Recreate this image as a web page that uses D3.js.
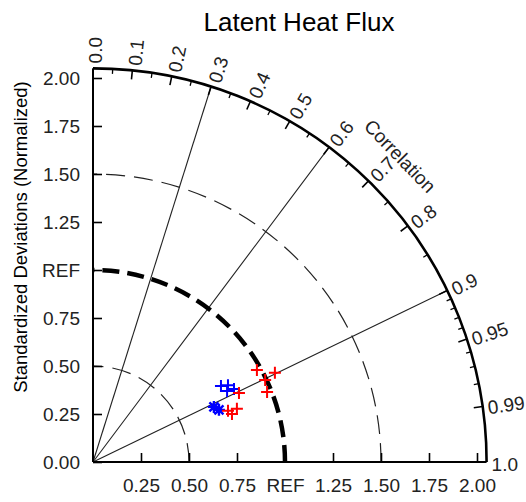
<!DOCTYPE html>
<html>
<head>
<meta charset="utf-8">
<script src="https://cdn.jsdelivr.net/npm/d3@7"></script>
<style>
  body { margin: 0; background: #fff; }
  svg { font-family: "Liberation Sans", Arial, Helvetica, sans-serif; }
</style>
</head>
<body>
<div id="chart"></div>
<script>
// std-dev ticks (normalized) and correlation ticks
const stdTicks = [0.25, 0.5, 0.75, 1.0, 1.25, 1.5, 1.75, 2.0];
const corrMajor = [0.0, 0.1, 0.2, 0.3, 0.4, 0.5, 0.6, 0.7, 0.8, 0.9, 0.95, 0.99];
const corrMinor = [0.05, 0.15, 0.25, 0.35, 0.45, 0.55, 0.65, 0.75, 0.85, 0.91, 0.92, 0.93, 0.94, 0.96, 0.97, 0.98];
const corrLines = [0.3, 0.6, 0.9];
const thinArcs = [0.5, 1.5];

// model points: normalized std ratio and correlation
const bluePlusRatio = [0.775, 0.809, 0.827, 0.790];
const bluePlusCorr  = [0.860, 0.869, 0.888, 0.884];
const blueStarRatio = [0.692, 0.710];
const blueStarCorr  = [0.910, 0.924];
const redPlusRatio = [0.841, 0.752, 0.799, 0.766, 0.979, 0.993, 1.055, 0.977];
const redPlusCorr  = [0.904, 0.935, 0.938, 0.945, 0.872, 0.903, 0.898, 0.928];

const W = 526, H = 502;
const ox = 93, oy = 462;
const maxStd = 2.05;

const x = d3.scaleLinear().domain([0, maxStd]).range([ox, ox + 393.6]);
const y = d3.scaleLinear().domain([0, maxStd]).range([oy, oy - 393.6]);
const R = x(maxStd) - ox;
const rad = v => x(v) - ox;

const svg = d3.select("#chart").append("svg")
  .attr("width", W).attr("height", H);

// title
svg.append("text")
  .attr("x", 299).attr("y", 31)
  .attr("text-anchor", "middle")
  .style("font-size", "26px")
  .text("Latent Heat Flux");

// y title
svg.append("text")
  .attr("transform", "translate(27,237) rotate(-90)")
  .attr("text-anchor", "middle")
  .style("font-size", "18.5px")
  .text("Standardized Deviations (Normalized)");

const g = svg.append("g");

// polar helper
function pt(r, cc) {
  const a = Math.acos(cc);
  return [ox + r * Math.cos(a), oy - r * Math.sin(a)];
}
function arcPath(r) {
  const p = d3.path();
  p.moveTo(ox + r, oy);
  p.arc(ox, oy, r, 0, -Math.PI / 2, true);
  return p.toString();
}

// correlation lines
g.selectAll(".cline").data(corrLines).enter().append("line")
  .attr("x1", ox).attr("y1", oy)
  .attr("x2", d => pt(R, d)[0]).attr("y2", d => pt(R, d)[1])
  .attr("stroke", "#222").attr("stroke-width", 1.1);

// std dashed arcs
g.selectAll(".tarc").data(thinArcs).enter().append("path")
  .attr("d", d => arcPath(rad(d)))
  .attr("fill", "none").attr("stroke", "#222")
  .attr("stroke-width", 1.2).attr("stroke-dasharray", "19,9");

g.append("path")
  .attr("d", arcPath(rad(1.0)))
  .attr("fill", "none").attr("stroke", "#000")
  .attr("stroke-width", 4.5).attr("stroke-dasharray", "17,8");

// x axis
const xAxis = g.append("g")
  .attr("transform", `translate(0,${oy})`)
  .call(d3.axisBottom(x).tickValues(stdTicks)
    .tickSizeInner(-9).tickSizeOuter(0).tickPadding(17)
    .tickFormat(d => d === 1 ? "REF" : d3.format(".2f")(d)));
xAxis.select(".domain").remove();
xAxis.selectAll("line").attr("stroke", "#000").attr("stroke-width", 1.6);
xAxis.selectAll("text").style("font-size", "19px").attr("fill", "#222");

// y axis
const yAxis = g.append("g")
  .attr("transform", `translate(${ox},0)`)
  .call(d3.axisLeft(y).tickValues([0].concat(stdTicks))
    .tickSizeInner(-9).tickSizeOuter(0).tickPadding(13)
    .tickFormat(d => d === 1 ? "REF" : d3.format(".2f")(d)));
yAxis.select(".domain").remove();
yAxis.selectAll("line").attr("stroke", "#000").attr("stroke-width", 1.6);
yAxis.selectAll("text").style("font-size", "19px").attr("fill", "#222");

// axis lines
g.append("line").attr("x1", ox).attr("y1", oy).attr("x2", x(maxStd)).attr("y2", oy)
  .attr("stroke", "#000").attr("stroke-width", 2);
g.append("line").attr("x1", ox).attr("y1", oy).attr("x2", ox).attr("y2", y(maxStd))
  .attr("stroke", "#000").attr("stroke-width", 2);

// outer arc
g.append("path").attr("d", arcPath(R))
  .attr("fill", "none").attr("stroke", "#000").attr("stroke-width", 2.6);

// arc ticks
g.selectAll(".maj").data(corrMajor).enter().append("line")
  .attr("x1", d => pt(R, d)[0]).attr("y1", d => pt(R, d)[1])
  .attr("x2", d => pt(R - 9, d)[0]).attr("y2", d => pt(R - 9, d)[1])
  .attr("stroke", "#000").attr("stroke-width", 1.6);
g.selectAll(".min").data(corrMinor).enter().append("line")
  .attr("x1", d => pt(R, d)[0]).attr("y1", d => pt(R, d)[1])
  .attr("x2", d => pt(R - 5, d)[0]).attr("y2", d => pt(R - 5, d)[1])
  .attr("stroke", "#000").attr("stroke-width", 1.3);

// correlation labels
g.selectAll(".clab").data(corrMajor.concat([1.0])).enter().append("text")
  .attr("transform", d => {
    const p = pt(R + 5, d);
    const a = Math.acos(d) * 180 / Math.PI;
    return `translate(${p[0]},${p[1]}) rotate(${-a})`;
  })
  .attr("dy", "0.45em")
  .style("font-size", "19px").attr("fill", "#222")
  .text(d => d === 1 ? "1.0" : (d === 0.95 || d === 0.99) ? d.toFixed(2) : d.toFixed(1));

svg.append("text")
  .attr("transform", "translate(400,156) rotate(46)")
  .attr("text-anchor", "middle").attr("dy", "0.35em")
  .style("font-size", "19px").attr("fill", "#222")
  .text("Correlation");

// markers
function plus(sel, ratio, corr, color) {
  const pts = ratio.map((r, i) => [x(r * corr[i]), y(r * Math.sqrt(1 - corr[i] * corr[i]))]);
  const m = sel.selectAll(null).data(pts).enter().append("path")
    .attr("d", d => `M${d[0] - 6},${d[1]}h12M${d[0]},${d[1] - 6}v12`)
    .attr("stroke", color).attr("stroke-width", 2).attr("fill", "none");
  return m;
}
function star(sel, ratio, corr, color) {
  const pts = ratio.map((r, i) => [x(r * corr[i]), y(r * Math.sqrt(1 - corr[i] * corr[i]))]);
  sel.selectAll(null).data(pts).enter().append("path")
    .attr("d", d => `M${d[0] - 6},${d[1]}h12M${d[0]},${d[1] - 6}v12M${d[0] - 4.5},${d[1] - 4.5}l9,9M${d[0] - 4.5},${d[1] + 4.5}l9,-9`)
    .attr("stroke", color).attr("stroke-width", 2.4).attr("fill", "none");
}
const mk = svg.append("g");
plus(mk, bluePlusRatio, bluePlusCorr, "#0000ff");
star(mk, blueStarRatio, blueStarCorr, "#0000ff");
plus(mk, redPlusRatio, redPlusCorr, "#ff0000");
</script>
</body>
</html>
